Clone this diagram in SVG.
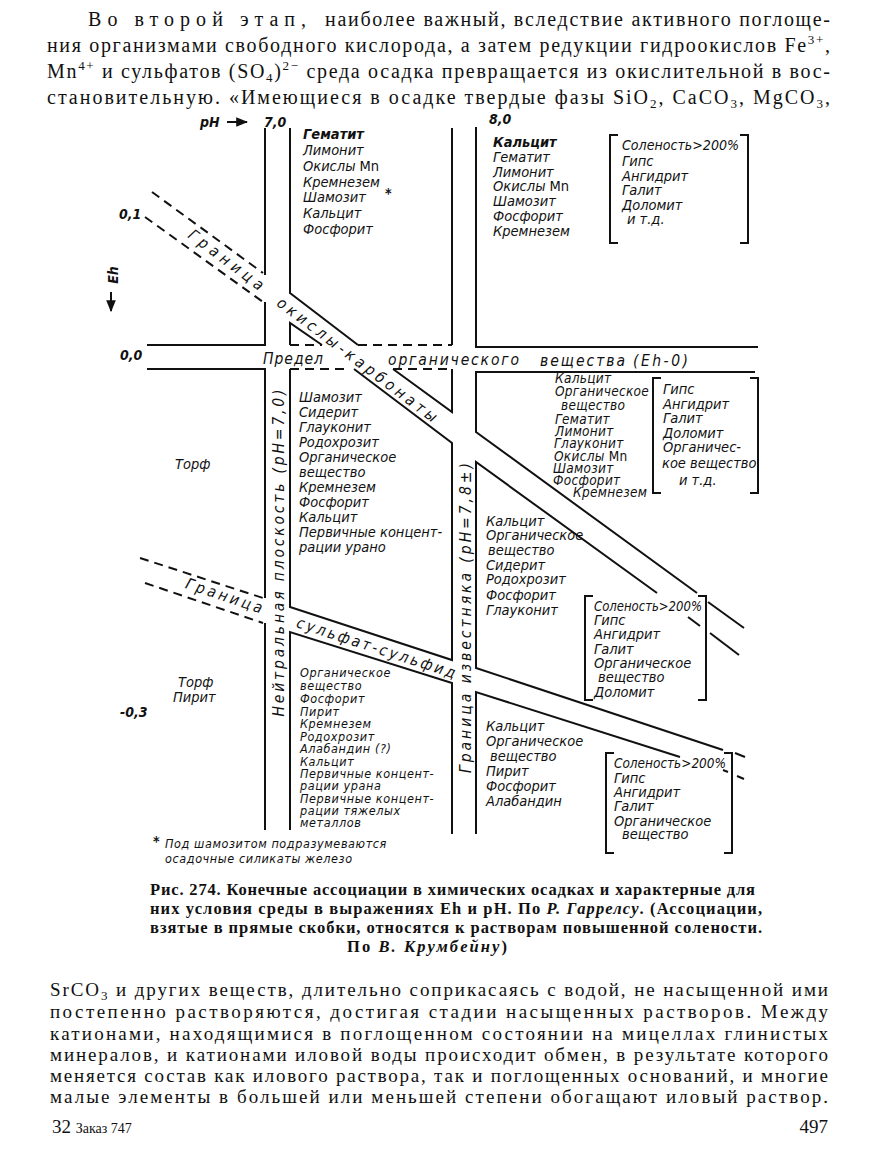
<svg xmlns="http://www.w3.org/2000/svg" width="877" height="1149" viewBox="0 0 877 1149">
<defs>
<style>
.ln{stroke:#111;stroke-width:2;fill:none}
.ds{stroke-dasharray:9 6}
.t{font-family:"DejaVu Sans Condensed","DejaVu Sans",sans-serif;font-style:oblique;font-size:14.5px;fill:#111}
.s{font-size:12.5px;letter-spacing:0.6px}
.m{font-size:13.5px;letter-spacing:0.3px}
.bd{font-weight:bold}
.up{font-style:normal}
.lb{font-family:"DejaVu Sans Condensed","DejaVu Sans",sans-serif;font-style:oblique;font-size:15.5px;fill:#111}
.ax{font-family:"DejaVu Sans Condensed","DejaVu Sans",sans-serif;font-style:oblique;font-weight:bold;font-size:14px;fill:#111}
.p{font-family:"Liberation Serif","DejaVu Serif",serif;font-size:20px;fill:#111}
.q{font-family:"Liberation Serif","DejaVu Serif",serif;font-size:19px;fill:#111}
.c{font-family:"Liberation Serif","DejaVu Serif",serif;font-size:16.5px;font-weight:bold;fill:#111}
.i{font-style:italic}
</style>
<marker id="ah" viewBox="0 0 10 10" refX="9" refY="5" markerWidth="6" markerHeight="6" orient="auto"><path d="M0,1 L10,5 L0,9 Z" fill="#111"/></marker>
</defs>
<rect width="877" height="1149" fill="#fff"/>

<g id="text-top">
<text class="p" x="88" y="26" textLength="218" lengthAdjust="spacing">Во второй этап,</text>
<text class="p" x="325" y="26" textLength="505" lengthAdjust="spacing">наиболее важный, вследствие активного поглоще-</text>
<text class="p" x="47" y="52" textLength="783" lengthAdjust="spacing">ния организмами свободного кислорода, а затем редукции гидроокислов Fe<tspan font-size="13" dy="-8">3+</tspan><tspan dy="8">,</tspan></text>
<text class="p" x="47" y="78" textLength="783" lengthAdjust="spacing">Mn<tspan font-size="13" dy="-8">4+</tspan><tspan dy="8"> и сульфатов (SO</tspan><tspan font-size="13" dy="4">4</tspan><tspan dy="-4">)</tspan><tspan font-size="13" dy="-8">2−</tspan><tspan dy="8"> среда осадка превращается из окислительной в вос-</tspan></text>
<text class="p" x="47" y="104" textLength="783" lengthAdjust="spacing">становительную. «Имеющиеся в осадке твердые фазы SiO<tspan font-size="13" dy="4">2</tspan><tspan dy="-4">, CaCO</tspan><tspan font-size="13" dy="4">3</tspan><tspan dy="-4">, MgCO</tspan><tspan font-size="13" dy="4">3</tspan><tspan dy="-4">,</tspan></text>
</g>

<g id="connectors">
<path class="ln" d="M265,128 V275"/>
<path class="ln" d="M265,302 V345 H147"/>
<path class="ln" d="M147,369 H265 V598"/>
<path class="ln" d="M265,623 V830"/>
<path class="ln" d="M290,128 V293 L358,345"/>
<path class="ln" d="M290,345 V323 L322,345"/>
<path class="ln" d="M354,369 L452,443 V660 L290,607 V369"/>
<path class="ln" d="M290,830 V632 L452,683 V834"/>
<path class="ln" d="M452,128 V345"/>
<path class="ln" d="M393,369 L452,412 V369"/>
<path class="ln" d="M476,127 V347 H758"/>
<path class="ln" d="M755,372 H476 V432 L697,593"/>
<path class="ln" d="M708,602 L744,628"/>
<path class="ln" d="M657,593 L476,462 V668 L723,750"/>
<path class="ln" d="M688,617 L700,626"/>
<path class="ln" d="M710,633 L739,655"/>
<path class="ln" d="M735,753 L745,757"/>
<path class="ln" d="M680,757 L476,692 V834"/>
<path class="ln" d="M723,770 L728,772"/>
<path class="ln" d="M737,776 L744,779"/>
<path class="ln ds" d="M290,345 H322"/>
<path class="ln ds" d="M358,345 H452"/>
<path class="ln ds" d="M290,369 H346"/>
<path class="ln ds" d="M393,369 H452"/>
<path class="ln ds" d="M152,192 L263,273"/>
<path class="ln ds" d="M145,217 L263,302"/>
<path class="ln ds" d="M140,558 L263,598"/>
<path class="ln ds" d="M145,583 L263,623"/>
<path class="ln" d="M618,135 H610 V243 H618 M740,135 H748 V243 H740"/>
<path class="ln" d="M661,378 H653 V493 H661 M750,378 H758 V493 H750"/>
<path class="ln" d="M593,596 H585 V700 H593 M698,596 H706 V700 H698"/>
<path class="ln" d="M614,753 H606 V853 H614 M724,753 H732 V853 H724"/>
<path class="ln" d="M227,122 H247" marker-end="url(#ah)"/>
<path class="ln" d="M111,292 V311" marker-end="url(#ah)"/>
</g>

<g id="axes">
<text class="ax up" x="200" y="127">pH</text>
<text class="ax" x="264" y="127">7,0</text>
<text class="ax" x="489" y="124">8,0</text>
<text class="ax" transform="translate(118,275) rotate(-90)" text-anchor="middle">Eh</text>
<text class="ax" x="119" y="219">0,1</text>
<text class="ax" x="120" y="360">0,0</text>
<text class="ax" x="120" y="717">-0,3</text>
</g>

<g id="boundary-labels">
<text class="lb" transform="translate(226,260) rotate(37)" text-anchor="middle" y="5" textLength="90" lengthAdjust="spacing">Граница</text>
<text class="lb" transform="translate(357,360) rotate(37)" text-anchor="middle" y="5" textLength="196" lengthAdjust="spacing">окислы-карбонаты</text>
<text class="lb" transform="translate(224,596) rotate(18.5)" text-anchor="middle" y="5" textLength="80" lengthAdjust="spacing">Граница</text>
<text class="lb" transform="translate(376,648) rotate(18)" text-anchor="middle" y="5" textLength="166" lengthAdjust="spacing">сульфат-сульфид</text>
<text class="lb" transform="translate(284,553) rotate(-90)" text-anchor="middle" textLength="327" lengthAdjust="spacing">Нейтральная плоскость (pH=7,0)</text>
<text class="lb" transform="translate(471,618) rotate(-90)" text-anchor="middle" textLength="310" lengthAdjust="spacing">Граница известняка (pH=7,8±)</text>
<text class="lb" x="263" y="364" textLength="60" lengthAdjust="spacing">Предел</text>
<text class="lb" x="388" y="365" textLength="131" lengthAdjust="spacing">органического</text>
<text class="lb" x="540" y="366" textLength="85" lengthAdjust="spacing">вещества</text>
<text class="lb" x="633" y="366" textLength="55" lengthAdjust="spacing">(Eh-0)</text>
</g>

<g id="field-oxidizing-neutral">
<text class="t"><tspan class="bd" x="303" y="139">Гематит</tspan><tspan x="303" y="155">Лимонит</tspan><tspan x="303" y="171">Окислы <tspan class="up">Mn</tspan></tspan><tspan x="303" y="187">Кремнезем</tspan><tspan x="303" y="202">Шамозит</tspan><tspan x="303" y="218">Кальцит</tspan><tspan x="303" y="234">Фосфорит</tspan></text>
<text class="ax" x="385" y="198">*</text>
</g>

<g id="field-oxidizing-alkaline">
<text class="t"><tspan class="bd" x="493" y="147">Кальцит</tspan><tspan x="493" y="162">Гематит</tspan><tspan x="493" y="177">Лимонит</tspan><tspan x="493" y="191">Окислы <tspan class="up">Mn</tspan></tspan><tspan x="493" y="206">Шамозит</tspan><tspan x="493" y="221">Фосфорит</tspan><tspan x="493" y="236">Кремнезем</tspan></text>
<text class="t" x="622" y="150" textLength="117" lengthAdjust="spacingAndGlyphs">Соленость&gt;200%</text>
<text class="t"><tspan x="622" y="166">Гипс</tspan><tspan x="622" y="181">Ангидрит</tspan><tspan x="622" y="195">Галит</tspan><tspan x="622" y="210">Доломит</tspan><tspan x="627" y="224">и т.д.</tspan></text>
</g>

<g id="field-peat-upper">
<text class="t" x="175" y="469">Торф</text>
</g>

<g id="field-reducing-neutral">
<text class="t"><tspan x="299" y="402">Шамозит</tspan><tspan x="299" y="417">Сидерит</tspan><tspan x="299" y="432">Глауконит</tspan><tspan x="299" y="447">Родохрозит</tspan><tspan x="299" y="462">Органическое</tspan><tspan x="299" y="477">вещество</tspan><tspan x="299" y="492">Кремнезем</tspan><tspan x="299" y="507">Фосфорит</tspan><tspan x="299" y="522">Кальцит</tspan><tspan x="299" y="537">Первичные концент-</tspan><tspan x="299" y="552">рации урано</tspan></text>
</g>

<g id="field-reducing-alkaline-upper">
<text class="t m"><tspan x="555" y="383">Кальцит</tspan><tspan x="555" y="396">Органическое</tspan><tspan x="561" y="410">вещество</tspan><tspan x="555" y="424">Гематит</tspan><tspan x="555" y="436">Лимонит</tspan><tspan x="554" y="448">Глауконит</tspan><tspan x="554" y="461">Окислы <tspan class="up">Mn</tspan></tspan><tspan x="553" y="473">Шамозит</tspan><tspan x="553" y="485">Фосфорит</tspan><tspan x="573" y="497">Кремнезем</tspan></text>
<text class="t"><tspan x="663" y="394">Гипс</tspan><tspan x="663" y="409">Ангидрит</tspan><tspan x="663" y="423">Галит</tspan><tspan x="663" y="438">Доломит</tspan><tspan x="663" y="452">Органичес-</tspan><tspan x="662" y="468">кое вещество</tspan><tspan x="679" y="485">и т.д.</tspan></text>
</g>

<g id="field-reducing-alkaline-middle">
<text class="t"><tspan x="486" y="526">Кальцит</tspan><tspan x="486" y="540">Органическое</tspan><tspan x="488" y="555">вещество</tspan><tspan x="486" y="570">Сидерит</tspan><tspan x="486" y="584">Родохрозит</tspan><tspan x="486" y="600">Фосфорит</tspan><tspan x="486" y="615">Глауконит</tspan></text>
<text class="t" x="594" y="611" textLength="108" lengthAdjust="spacingAndGlyphs">Соленость&gt;200%</text>
<text class="t"><tspan x="594" y="625">Гипс</tspan><tspan x="594" y="639">Ангидрит</tspan><tspan x="594" y="654">Галит</tspan><tspan x="594" y="668">Органическое</tspan><tspan x="598" y="682">вещество</tspan><tspan x="594" y="697">Доломит</tspan></text>
</g>

<g id="field-peat-lower">
<text class="t"><tspan x="178" y="687">Торф</tspan><tspan x="173" y="702">Пирит</tspan></text>
</g>

<g id="field-sulfide-neutral">
<text class="t s"><tspan x="300" y="677">Органическое</tspan><tspan x="300" y="690">вещество</tspan><tspan x="300" y="703">Фосфорит</tspan><tspan x="300" y="716">Пирит</tspan><tspan x="300" y="728">Кремнезем</tspan><tspan x="300" y="741">Родохрозит</tspan><tspan x="300" y="753">Алабандин (?)</tspan><tspan x="300" y="766">Кальцит</tspan><tspan x="300" y="778">Первичные концент-</tspan><tspan x="300" y="790">рации урана</tspan><tspan x="300" y="803">Первичные концент-</tspan><tspan x="300" y="815">рации тяжелых</tspan><tspan x="300" y="827">металлов</tspan></text>
</g>

<g id="field-sulfide-alkaline">
<text class="t"><tspan x="486" y="731">Кальцит</tspan><tspan x="486" y="746">Органическое</tspan><tspan x="490" y="761">вещество</tspan><tspan x="486" y="776">Пирит</tspan><tspan x="486" y="791">Фосфорит</tspan><tspan x="486" y="806">Алабандин</tspan></text>
<text class="t" x="614" y="768" textLength="112" lengthAdjust="spacingAndGlyphs">Соленость&gt;200%</text>
<text class="t"><tspan x="614" y="783">Гипс</tspan><tspan x="614" y="797">Ангидрит</tspan><tspan x="614" y="811">Галит</tspan><tspan x="614" y="826">Органическое</tspan><tspan x="622" y="839">вещество</tspan></text>
</g>

<g id="footnote">
<text class="ax" x="153" y="846">*</text>
<text class="t s"><tspan x="165" y="848">Под шамозитом подразумеваются</tspan><tspan x="165" y="863">осадочные силикаты железо</tspan></text>
</g>

<g id="caption">
<text class="c" x="150" y="895" textLength="605" lengthAdjust="spacing">Рис. 274. Конечные ассоциации в химических осадках и характерные для</text>
<text class="c" x="150" y="914" textLength="612" lengthAdjust="spacing">них условия среды в выражениях Eh и pH. По <tspan class="i">Р. Гаррелсу</tspan>. (Ассоциации,</text>
<text class="c" x="150" y="933" textLength="612" lengthAdjust="spacing">взятые в прямые скобки, относятся к растворам повышенной солености.</text>
<text class="c" x="347" y="952" textLength="160" lengthAdjust="spacing">По <tspan class="i">В. Крумбейну</tspan>)</text>
</g>

<g id="text-bottom">
<text class="q" x="50" y="996" textLength="778" lengthAdjust="spacing">SrCO<tspan font-size="13" dy="4">3</tspan><tspan dy="-4"> и других веществ, длительно соприкасаясь с водой, не насыщенной ими</tspan></text>
<text class="q" x="50" y="1018" textLength="778" lengthAdjust="spacing">постепенно растворяются, достигая стадии насыщенных растворов. Между</text>
<text class="q" x="50" y="1040" textLength="778" lengthAdjust="spacing">катионами, находящимися в поглощенном состоянии на мицеллах глинистых</text>
<text class="q" x="50" y="1061" textLength="778" lengthAdjust="spacing">минералов, и катионами иловой воды происходит обмен, в результате которого</text>
<text class="q" x="50" y="1082" textLength="778" lengthAdjust="spacing">меняется состав как илового раствора, так и поглощенных оснований, и многие</text>
<text class="q" x="50" y="1103" textLength="778" lengthAdjust="spacing">малые элементы в большей или меньшей степени обогащают иловый раствор.</text>
<text class="q" x="52" y="1133" font-size="16">32 <tspan font-size="14">Заказ 747</tspan></text>
<text class="q" x="828" y="1133" font-size="16" text-anchor="end">497</text>
</g>
</svg>
